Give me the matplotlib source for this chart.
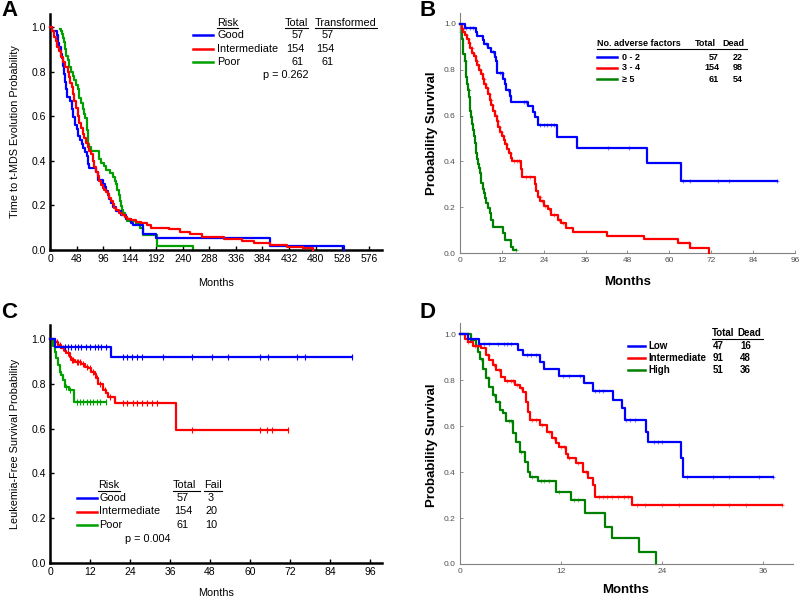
import numpy as np
import matplotlib
matplotlib.use("Agg")
import matplotlib.pyplot as plt
from matplotlib.lines import Line2D
from matplotlib.ticker import FormatStrFormatter

plt.rcParams['font.family'] = ['Liberation Sans', 'DejaVu Sans']

# ---------------- data ----------------
# Panel A: time to t-MDS evolution (months), by risk
A_good_t = [0, 3, 12, 15, 17, 19, 21, 23, 25, 27, 29, 31, 36, 39, 42, 45, 48, 51, 54, 57, 60, 63, 66, 69, 71,
            83, 86, 95, 99, 101, 105, 107, 111, 114, 120, 128, 137, 146, 150, 168, 191, 398, 531]
A_good_s = [1.0, 0.982, 0.965, 0.93, 0.912, 0.877, 0.86, 0.825, 0.79, 0.755, 0.72, 0.685, 0.667, 0.632, 0.597,
            0.562, 0.544, 0.509, 0.491, 0.474, 0.456, 0.439, 0.421, 0.386, 0.368, 0.351, 0.316, 0.298, 0.281,
            0.263, 0.246, 0.228, 0.211, 0.193, 0.175, 0.158, 0.14, 0.123, 0.11, 0.07, 0.053, 0.018, 0.0]
A_int_t = [0, 4, 7, 10, 13, 16, 19, 23, 28, 32, 35, 37, 39, 41, 44, 47, 50, 53, 56, 59, 62, 65, 68, 71, 74, 77,
           80, 83, 86, 89, 92, 95, 98, 101, 104, 107, 110, 113, 116, 120, 125, 130, 135, 140, 147, 155, 165,
           175, 183, 215, 235, 253, 274, 314, 347, 368, 398, 428, 458, 476]
A_int_s = [1.0, 0.98, 0.955, 0.935, 0.91, 0.89, 0.865, 0.845, 0.82, 0.8, 0.775, 0.75, 0.73, 0.7, 0.67, 0.635,
           0.6, 0.57, 0.545, 0.52, 0.5, 0.48, 0.46, 0.445, 0.43, 0.4, 0.37, 0.35, 0.33, 0.31, 0.29, 0.28, 0.27,
           0.26, 0.25, 0.235, 0.22, 0.205, 0.19, 0.178, 0.165, 0.155, 0.148, 0.14, 0.133, 0.127, 0.12, 0.11,
           0.1, 0.093, 0.082, 0.072, 0.057, 0.048, 0.04, 0.03, 0.022, 0.015, 0.0075, 0.0]
A_poor_t = [18, 19, 21, 23, 25, 27, 29, 32, 35, 38, 41, 44, 47, 50, 53, 56, 59, 61, 63, 66, 67, 68, 69, 70, 74,
            89, 92, 98, 101, 108, 113, 117, 119, 121, 124, 126, 128, 130, 132, 136, 140, 156, 162, 168, 194, 258]
A_poor_s = [0.99, 0.984, 0.967, 0.951, 0.934, 0.9, 0.87, 0.85, 0.82, 0.8, 0.78, 0.76, 0.74, 0.72, 0.68, 0.66,
            0.63, 0.61, 0.59, 0.56, 0.54, 0.51, 0.475, 0.46, 0.443, 0.41, 0.39, 0.377, 0.36, 0.344, 0.328,
            0.311, 0.295, 0.27, 0.246, 0.22, 0.197, 0.18, 0.164, 0.148, 0.131, 0.115, 0.098, 0.066, 0.016, 0.0]
A_xticks = list(range(0, 577, 48))

# Panel B: survival by number of adverse factors
B_low_t = [0, 1.3, 4.5, 5.0, 6.5, 7.0, 8.0, 9.0, 9.9, 10.3, 10.7, 12.3, 12.8, 13.3, 14.2, 14.6, 19.5, 21.0,
           21.4, 22.3, 27.9, 33.6, 53.5, 63.3, 90.7]
B_low_s = [1.0, 0.982, 0.965, 0.947, 0.93, 0.912, 0.894, 0.876, 0.858, 0.84, 0.785, 0.76, 0.74, 0.71, 0.685,
           0.66, 0.64, 0.617, 0.595, 0.56, 0.508, 0.457, 0.392, 0.313, 0.313]
B_low_c = [1.8, 2.8, 3.8, 7.5, 9.5, 11.5, 12.0, 13.8, 18.2, 18.8, 23.0, 24.0, 25.0, 26.0, 27.0, 42.5, 48.3,
           63.8, 66.0, 74.0, 77.0, 90.7]
B_mid_t = [0, 0.5, 1.0, 1.5, 2.0, 2.5, 3.0, 3.5, 4.0, 4.5, 5.0, 5.5, 6.0, 6.5, 7.0, 7.5, 8.0, 8.5, 9.0, 9.5,
           10.0, 10.5, 11.0, 11.5, 12.0, 12.5, 13.0, 13.5, 14.0, 14.5, 15.0, 17.4, 17.7, 21.4, 21.8, 22.3, 23.0,
           24.0, 25.2, 26.2, 28.1, 29.0, 30.5, 32.4, 42.0, 52.7, 62.6, 65.9, 71.4]
B_mid_s = [1.0, 0.98, 0.965, 0.95, 0.935, 0.915, 0.895, 0.875, 0.86, 0.84, 0.82, 0.8, 0.78, 0.76, 0.74, 0.72,
           0.695, 0.67, 0.645, 0.62, 0.6, 0.575, 0.55, 0.53, 0.51, 0.495, 0.475, 0.455, 0.435, 0.415, 0.4,
           0.367, 0.333, 0.3, 0.27, 0.245, 0.225, 0.205, 0.19, 0.165, 0.145, 0.13, 0.11, 0.093, 0.074, 0.06,
           0.042, 0.023, 0.0]
B_mid_c = [0.8, 1.6, 2.2, 2.7, 3.3, 3.8, 4.2, 4.8, 5.3, 5.8, 6.3, 6.8, 7.3, 7.8, 8.3, 8.8, 9.3, 9.8, 10.3,
           10.8, 11.3, 11.8, 12.3, 13.2, 14.2, 15.5, 16.3, 17.0, 19.0, 20.0, 22.8, 23.5, 24.5, 25.5, 27.0,
           28.5, 29.5, 65.5]
B_high_t = [0, 0.3, 0.5, 0.8, 1.0, 1.3, 1.6, 1.8, 2.1, 2.3, 2.6, 2.8, 3.0, 3.2, 3.5, 3.7, 4.0, 4.2, 4.5, 4.7,
            5.0, 5.2, 5.4, 5.6, 5.9, 6.1, 6.5, 6.9, 7.2, 7.5, 8.0, 8.5, 9.0, 9.5, 12.3, 12.8, 14.7, 15.3, 16.1]
B_high_s = [1.0, 0.967, 0.934, 0.9, 0.87, 0.84, 0.8, 0.77, 0.74, 0.71, 0.68, 0.65, 0.62, 0.595, 0.565, 0.537,
            0.51, 0.48, 0.455, 0.435, 0.41, 0.39, 0.37, 0.35, 0.325, 0.304, 0.28, 0.26, 0.24, 0.217, 0.195,
            0.173, 0.145, 0.115, 0.086, 0.057, 0.028, 0.014, 0.014]
B_high_c = [0.4, 1.5, 2.5, 16.1]

# Panel C: leukemia-free survival by risk
C_good_t = [0, 1.4, 18.4, 90.5]
C_good_s = [1.0, 0.965, 0.918, 0.918]
C_good_c = [4.4, 5.4, 6.4, 7.4, 8.4, 9.4, 10.9, 11.9, 13.4, 14.4, 15.4, 16.9, 22, 23, 24.5, 26, 27.5, 34,
            42.5, 48.5, 53.5, 63, 65.5, 74, 76.5, 90.5]
C_int_t = [0, 1.4, 2.4, 3.4, 4.4, 4.9, 5.9, 6.4, 7.4, 9.4, 10.4, 11.4, 12.4, 13.4, 13.9, 14.4, 15.9, 16.9,
           17.4, 19.4, 37.7, 71.5]
C_int_s = [1.0, 0.988, 0.973, 0.958, 0.945, 0.936, 0.92, 0.906, 0.899, 0.89, 0.876, 0.87, 0.854, 0.842,
           0.824, 0.80, 0.772, 0.757, 0.743, 0.715, 0.595, 0.595]
C_int_c = [2, 3, 4, 5.5, 6.5, 7, 8, 8.5, 9, 10, 11, 12, 13, 14, 15, 16.5, 18, 22, 23, 25, 26, 27.5, 29, 30.5,
           32, 42.5, 63, 65, 66.5, 71.5]
C_poor_t = [0, 0.9, 1.4, 1.9, 2.4, 2.9, 3.4, 3.9, 4.4, 5.6, 7.2, 16.9]
C_poor_s = [1.0, 0.97, 0.94, 0.914, 0.884, 0.854, 0.84, 0.817, 0.787, 0.772, 0.72, 0.72]
C_poor_c = [3, 4.8, 6, 8, 9, 10, 11, 12, 13, 14, 15, 16.9]

# Panel D: survival by score group
D_low_t = [0, 0.9, 2.3, 6.9, 7.5, 9.5, 10.0, 11.8, 14.7, 15.8, 18.2, 19.2, 19.6, 22.1, 22.3, 26.3, 26.5, 37.2]
D_low_s = [1.0, 0.979, 0.957, 0.93, 0.909, 0.88, 0.85, 0.819, 0.786, 0.752, 0.713, 0.677, 0.626, 0.575,
           0.529, 0.46, 0.377, 0.377]
D_low_c = [1.2, 2.8, 3.5, 4.5, 5.2, 5.6, 6.0, 8.0, 8.4, 9.0, 12.2, 13.0, 14.2, 16.0, 16.5, 17.0, 19.7, 20.2,
           20.8, 23.0, 23.5, 24.0, 27.0, 30.0, 32.0, 35.5, 37.2]
D_int_t = [0, 0.55, 0.95, 1.5, 2.5, 3.1, 3.5, 3.9, 4.3, 4.9, 5.3, 6.5, 7.1, 7.5, 7.9, 8.1, 8.3, 9.5, 10.3,
           10.9, 11.4, 11.8, 12.6, 12.8, 13.8, 14.6, 15.2, 15.8, 16.0, 20.4, 38.2]
D_int_s = [1.0, 0.978, 0.967, 0.949, 0.938, 0.909, 0.887, 0.865, 0.843, 0.815, 0.796, 0.778, 0.765, 0.749,
           0.706, 0.662, 0.626, 0.604, 0.575, 0.546, 0.525, 0.51, 0.48, 0.459, 0.438, 0.40, 0.372, 0.343,
           0.293, 0.257, 0.257]
D_int_c = [1.0, 1.8, 2.0, 3.3, 4.0, 4.6, 5.6, 6.0, 6.3, 6.8, 7.3, 8.6, 9.0, 9.8, 10.6, 11.2, 12.0, 12.3,
           13.0, 14.0, 15.0, 16.5, 17.0, 17.5, 18.0, 18.8, 19.5, 20.0, 21.0, 22.0, 24.0, 26.0, 30.0, 32.0,
           34.0, 38.2]
D_high_t = [0, 1.27, 1.94, 2.1, 2.4, 2.7, 3.1, 3.5, 3.9, 4.3, 4.7, 5.1, 5.5, 6.3, 6.7, 7.1, 7.7, 8.1, 8.3,
            9.3, 11.4, 13.2, 14.8, 17.2, 18.0, 21.3, 23.3]
D_high_s = [1.0, 0.974, 0.948, 0.923, 0.89, 0.85, 0.807, 0.771, 0.735, 0.706, 0.67, 0.655, 0.622, 0.568,
            0.532, 0.488, 0.445, 0.40, 0.38, 0.361, 0.314, 0.278, 0.22, 0.162, 0.112, 0.054, 0.0]
D_high_c = [1.0, 2.5, 3.3, 4.0, 4.6, 5.8, 6.1, 7.2, 8.6, 9.6, 10.0, 10.6, 11.8, 13.6, 14.0]

# legend tables
A_groups = ["Good", "Intermediate", "Poor"]
A_total = [57, 154, 61]
A_transformed = [57, 154, 61]
A_p = "p = 0.262"
B_groups = ["0 - 2", "3 - 4", "\u2265 5"]
B_total = [57, 154, 61]
B_dead = [22, 98, 54]
C_groups = ["Good", "Intermediate", "Poor"]
C_total = [57, 154, 61]
C_fail = [3, 20, 10]
C_p = "p = 0.004"
D_groups = ["Low", "Intermediate", "High"]
D_total = [47, 91, 51]
D_dead = [16, 48, 36]

BLUE, RED, GREEN_A, GREEN_B = "#0000ff", "#ff0000", "#00a000", "#008000"

# ---------------- figure ----------------
W, H = 800, 598
fig = plt.figure(figsize=(8, 5.98), dpi=100)


def fx(px):
    return px / W


def fy(py):
    return 1 - py / H


def add_axes(l, t, r, b):
    return fig.add_axes([fx(l), fy(b), (r - l) / W, (b - t) / H])


def step_val(t, s, x):
    idx = np.searchsorted(np.asarray(t), np.asarray(x), side='right') - 1
    return np.asarray(s)[idx]


def km(ax, t, s, color, lw=1.6, censor=None, marker='|', ms=4, alpha=1.0, z=2):
    ax.step(t, s, where='post', color=color, lw=lw, zorder=z, clip_on=False)
    if censor:
        ax.plot(censor, step_val(t, s, censor), ls='none', marker=marker, color=color,
                ms=ms, mew=0.8, alpha=alpha, zorder=z + 0.5, clip_on=False)


def ftext(px, py, s, **kw):
    fig.text(fx(px), fy(py), s, va='center', **kw)


def fline(x0, x1, py, color, lw=1.0):
    fig.add_artist(Line2D([fx(x0), fx(x1)], [fy(py), fy(py)], color=color, lw=lw,
                          transform=fig.transFigure))


def style_ac(ax):
    for sp in ['top', 'right']:
        ax.spines[sp].set_visible(False)
    for sp in ['left', 'bottom']:
        ax.spines[sp].set_linewidth(1.8)
    ax.tick_params(direction='in', length=3, width=1, labelsize=7.5, pad=3)
    ax.yaxis.set_major_formatter(FormatStrFormatter('%.1f'))
    ax.set_yticks([0, 0.2, 0.4, 0.6, 0.8, 1.0])


def style_bd(ax):
    for sp in ['top', 'right']:
        ax.spines[sp].set_visible(False)
    for sp in ['left', 'bottom']:
        ax.spines[sp].set_linewidth(0.8)
        ax.spines[sp].set_color('#808080')
    ax.tick_params(direction='in', length=2.5, width=0.6, color='#808080', labelsize=6,
                   labelcolor='#505050', pad=3)
    ax.yaxis.set_major_formatter(FormatStrFormatter('%.1f'))
    ax.set_yticks([0, 0.2, 0.4, 0.6, 0.8, 1.0])


# ---- Panel A ----
axA = add_axes(50, 14, 382, 250)
style_ac(axA)
axA.set_xlim(0, 600)
axA.set_ylim(0, 1.058)
axA.set_xticks(A_xticks)
km(axA, A_poor_t, A_poor_s, GREEN_A, z=2)
km(axA, A_good_t, A_good_s, BLUE, z=3)
km(axA, A_int_t, A_int_s, RED, z=4)
ftext(15, 132, "Time to t-MDS Evolution Probability", rotation=90, ha='center', fontsize=7.8)
ftext(216, 283, "Months", ha='center', fontsize=7.8)
ftext(1, 10, "A", fontsize=16, fontweight='bold', ha='left')
# legend A
ftext(217, 23, "Risk", fontsize=7.8, ha='left')
ftext(285, 23, "Total", fontsize=7.8, ha='left')
ftext(315, 23, "Transformed", fontsize=7.8, ha='left')
fline(217, 238, 28, 'black', 0.8)
fline(285, 308, 28, 'black', 0.8)
fline(315, 377, 28, 'black', 0.8)
for i, (g, c) in enumerate(zip(A_groups, [BLUE, RED, GREEN_A])):
    y = 35 + i * 13.5
    fline(193, 213, y, c, 1.8)
    ftext(217, y, g, fontsize=7.8, ha='left')
    ftext(304, y, str(A_total[i]), fontsize=7.8, ha='right')
    ftext(334, y, str(A_transformed[i]), fontsize=7.8, ha='right')
ftext(263, 75, A_p, fontsize=7.8, ha='left')

# ---- Panel B ----
axB = add_axes(460, 13, 795, 253)
style_bd(axB)
axB.set_xlim(0, 96)
axB.set_ylim(0, 1.048)
axB.set_xticks(range(0, 97, 12))
km(axB, B_high_t, B_high_s, GREEN_B, lw=1.6, censor=B_high_c, marker='+', ms=3.5, alpha=0.5, z=2)
km(axB, B_mid_t, B_mid_s, RED, lw=1.6, censor=B_mid_c, marker='+', ms=3.5, alpha=0.5, z=3)
km(axB, B_low_t, B_low_s, BLUE, lw=1.6, censor=B_low_c, marker='+', ms=3.5, alpha=0.5, z=4)
ftext(432, 133, "Probability Survival", rotation=90, ha='center', fontsize=9.5, fontweight='bold')
ftext(628, 282, "Months", ha='center', fontsize=9.5, fontweight='bold')
ftext(419, 10, "B", fontsize=16, fontweight='bold', ha='left')
ftext(597, 43, "No. adverse factors", fontsize=6.5, fontweight='bold', ha='left')
ftext(695, 43, "Total", fontsize=6.5, fontweight='bold', ha='left')
ftext(722, 43, "Dead", fontsize=6.5, fontweight='bold', ha='left')
fline(597, 747, 48.5, 'black', 0.8)
for i, (g, c) in enumerate(zip(B_groups, [BLUE, RED, GREEN_B])):
    y = 57 + i * 11
    fline(597, 617, y, c, 1.8)
    ftext(622, y, g, fontsize=6.5, fontweight='bold', ha='left')
    ftext(719, y, str(B_total[i]), fontsize=6.5, fontweight='bold', ha='right')
    ftext(743, y, str(B_dead[i]), fontsize=6.5, fontweight='bold', ha='right')

# ---- Panel C ----
axC = add_axes(50, 325, 382, 563)
style_ac(axC)
axC.set_xlim(0, 99.6)
axC.set_ylim(0, 1.0625)
axC.set_xticks(range(0, 97, 12))
km(axC, C_poor_t, C_poor_s, GREEN_A, censor=C_poor_c, marker='|', ms=4, z=2)
km(axC, C_int_t, C_int_s, RED, censor=C_int_c, marker='|', ms=4, z=3)
km(axC, C_good_t, C_good_s, BLUE, censor=C_good_c, marker='|', ms=4, z=4)
ftext(15, 444, "Leukemia-Free Survival Probability", rotation=90, ha='center', fontsize=7.8)
ftext(216, 593, "Months", ha='center', fontsize=7.8)
ftext(1, 312, "C", fontsize=16, fontweight='bold', ha='left')
ftext(98, 485, "Risk", fontsize=7.8, ha='left')
ftext(173, 485, "Total", fontsize=7.8, ha='left')
ftext(204, 485, "Fail", fontsize=7.8, ha='left')
fline(98, 120, 490.5, 'black', 0.8)
fline(173, 200, 490.5, 'black', 0.8)
fline(204, 222, 490.5, 'black', 0.8)
for i, (g, c) in enumerate(zip(C_groups, [BLUE, RED, GREEN_A])):
    y = 498 + i * 13.5
    fline(77, 97, y, c, 1.8)
    ftext(99, y, g, fontsize=7.8, ha='left')
    ftext(183, y, str(C_total[i]), fontsize=7.8, ha='center')
    ftext(211, y, str(C_fail[i]), fontsize=7.8, ha='center')
ftext(125, 539, C_p, fontsize=7.8, ha='left')

# ---- Panel D ----
axD = add_axes(460, 323, 793, 564)
style_bd(axD)
axD.set_xlim(0, 39.56)
axD.set_ylim(0, 1.048)
axD.set_xticks([0, 12, 24, 36])
km(axD, D_high_t, D_high_s, GREEN_B, lw=1.6, censor=D_high_c, marker='+', ms=3.5, alpha=0.5, z=2)
km(axD, D_int_t, D_int_s, RED, lw=1.6, censor=D_int_c, marker='+', ms=3.5, alpha=0.5, z=3)
km(axD, D_low_t, D_low_s, BLUE, lw=1.6, censor=D_low_c, marker='+', ms=3.5, alpha=0.5, z=4)
ftext(432, 445, "Probability Survival", rotation=90, ha='center', fontsize=9.5, fontweight='bold')
ftext(626, 590, "Months", ha='center', fontsize=9.5, fontweight='bold')
ftext(419, 312, "D", fontsize=16, fontweight='bold', ha='left')
ftext(712, 333, "Total", fontsize=7, fontweight='bold', ha='left')
ftext(737, 333, "Dead", fontsize=7, fontweight='bold', ha='left')
fline(712, 763, 338.5, 'black', 0.8)
for i, (g, c) in enumerate(zip(D_groups, [BLUE, RED, GREEN_B])):
    y = 346 + i * 12
    fline(628, 645, y, c, 1.8)
    ftext(648, y, g, fontsize=7, fontweight='bold', ha='left')
    ftext(713, y, str(D_total[i]), fontsize=7, fontweight='bold', ha='left')
    ftext(740, y, str(D_dead[i]), fontsize=7, fontweight='bold', ha='left')

fig.savefig("out.png", dpi=100)
